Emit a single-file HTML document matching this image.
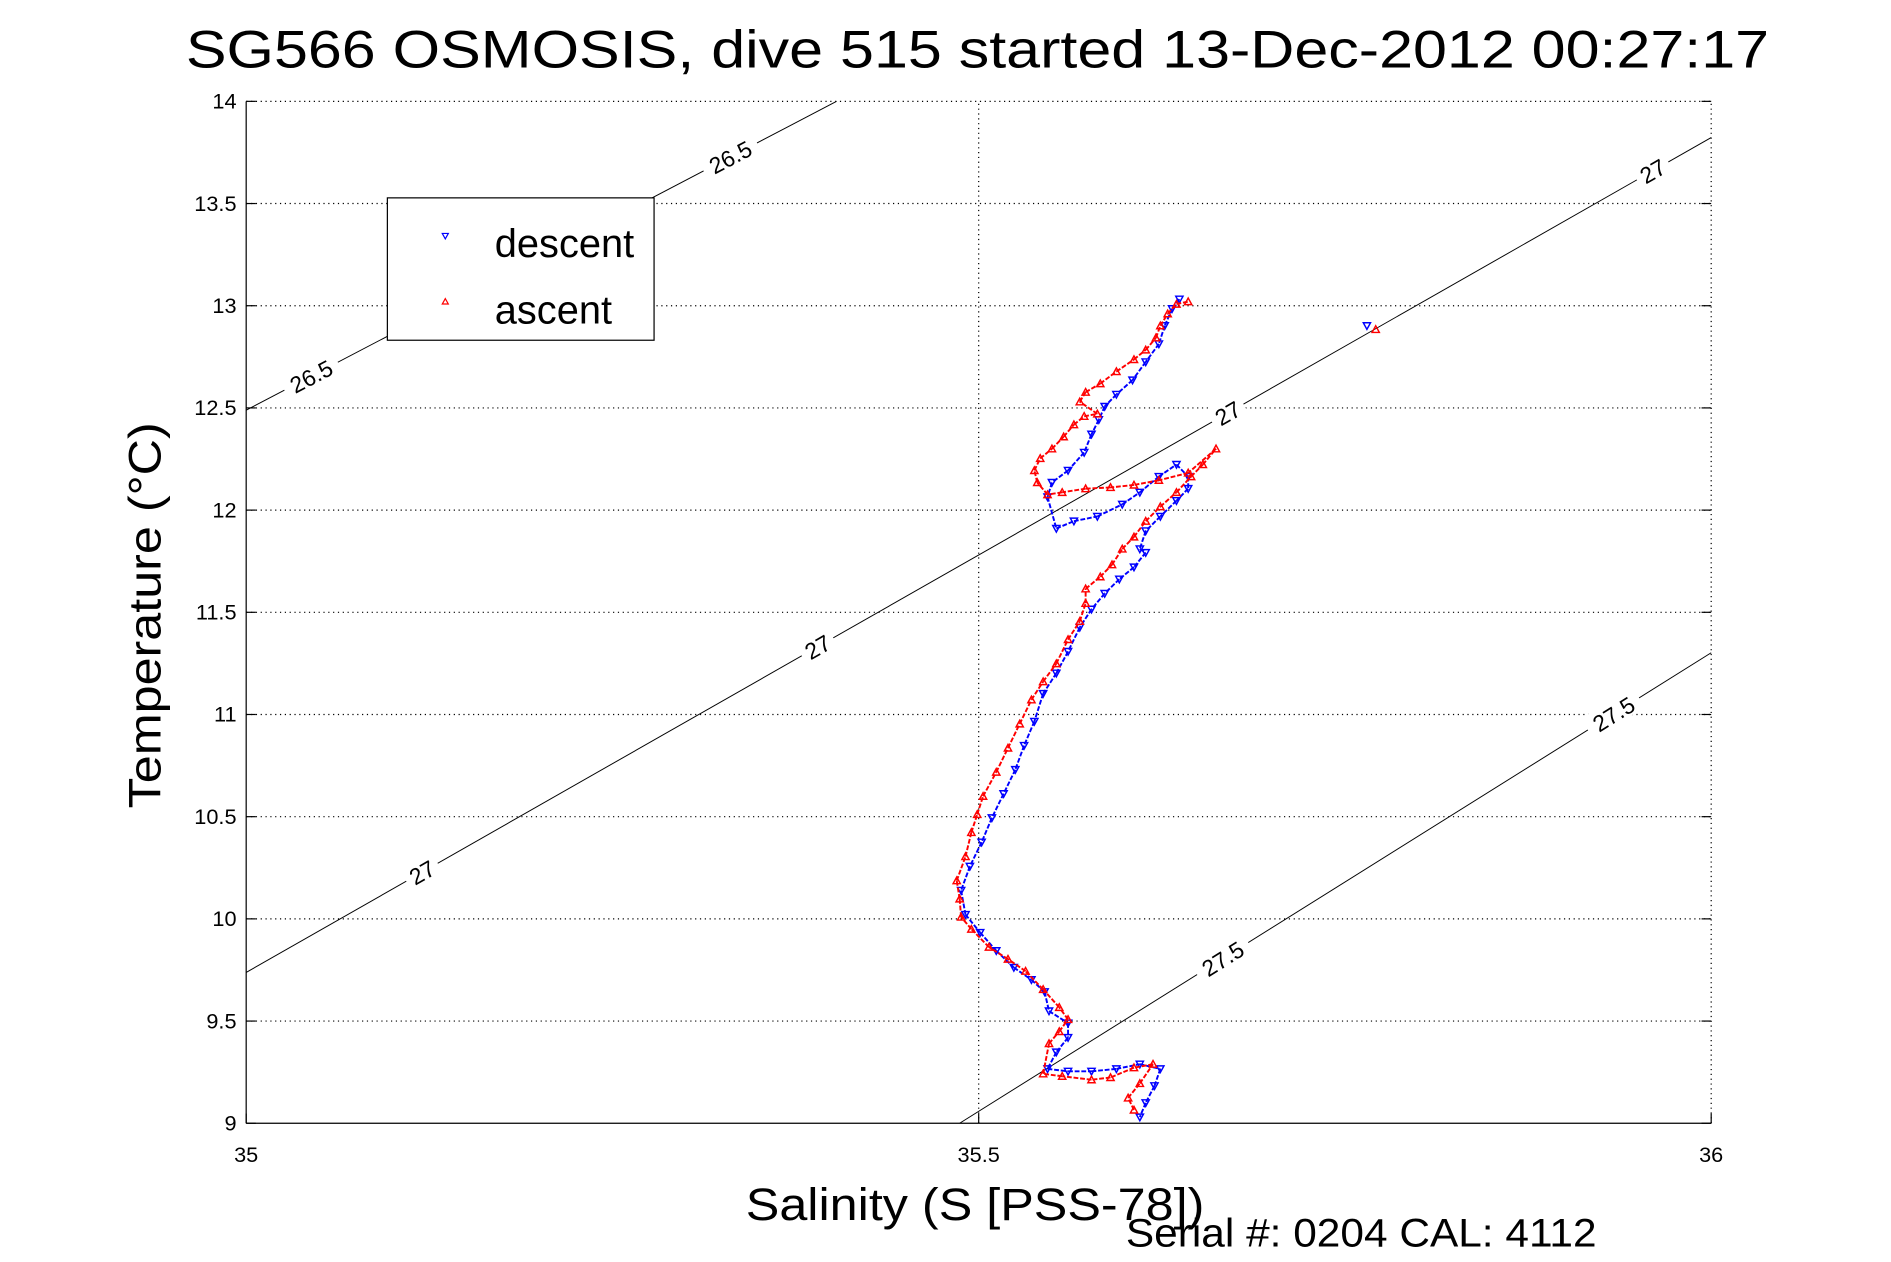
<!DOCTYPE html>
<html><head><meta charset="utf-8"><style>
html,body{margin:0;padding:0;background:#fff;}
svg{display:block;font-family:"Liberation Sans",sans-serif;}
</style></head><body>
<svg id="chart" width="1891" height="1262" viewBox="0 0 1567 1046" preserveAspectRatio="none" xmlns="http://www.w3.org/2000/svg">
<rect width="1567" height="1046" fill="#fff"/>
<text x="810" y="56" font-size="44" text-anchor="middle" textLength="1312" lengthAdjust="spacingAndGlyphs">SG566 OSMOSIS, dive 515 started 13-Dec-2012 00:27:17</text>
<g id="grid"></g>
<g id="contours"></g>
<g id="series"></g>
<line x1="204" y1="931" x2="1418" y2="931" stroke="#000" stroke-width="1"/>
<line x1="204" y1="84" x2="204" y2="931" stroke="#000" stroke-width="1"/>
<g id="ticks"></g>
<text transform="translate(133,510) rotate(-90)" font-size="38" text-anchor="middle" textLength="320" lengthAdjust="spacingAndGlyphs">Temperature (°C)</text>
<text x="808" y="1011" font-size="38" text-anchor="middle" textLength="380" lengthAdjust="spacingAndGlyphs">Salinity (S [PSS-78])</text>
<text x="1128" y="1033" font-size="33" text-anchor="middle" textLength="390" lengthAdjust="spacingAndGlyphs">Serial #: 0204  CAL: 4112</text>
<g>
<rect x="321" y="164" width="221" height="118" fill="#fff" stroke="#000" stroke-width="1"/>
<path d="M366.5,193.5 L371.5,193.5 L369,198 Z" fill="none" stroke="#00f" stroke-width="1"/>
<text x="410" y="213" font-size="33">descent</text>
<path d="M366.5,252 L371.5,252 L369,247.5 Z" fill="none" stroke="#f00" stroke-width="1"/>
<text x="410" y="268" font-size="33">ascent</text>
</g>
</svg>
<script>
const xTicks=[35,35.5,36];
const yTicks=[9,9.5,10,10.5,11,11.5,12,12.5,13,13.5,14];
const xTickLabels=["35","35.5","36"];
const yTickLabels=["9","9.5","10","10.5","11","11.5","12","12.5","13","13.5","14"];
const descentS=[35.637,35.632,35.627,35.623,35.614,35.605,35.594,35.586,35.582,35.577,35.572,35.561,35.550,35.547,35.553,35.565,35.581,35.598,35.610,35.623,35.635,35.643,35.643,35.635,35.624,35.614,35.610,35.614,35.606,35.596,35.586,35.577,35.569,35.561,35.553,35.544,35.538,35.531,35.525,35.517,35.509,35.502,35.494,35.488,35.491,35.501,35.512,35.524,35.536,35.545,35.548,35.561,35.561,35.553,35.547,35.561,35.577,35.594,35.610,35.624,35.620,35.614,35.610,35.765];
const descentT=[13.032,12.985,12.902,12.813,12.725,12.636,12.566,12.507,12.442,12.371,12.282,12.194,12.135,12.064,11.910,11.946,11.969,12.028,12.087,12.164,12.223,12.164,12.105,12.046,11.969,11.898,11.810,11.792,11.721,11.662,11.592,11.515,11.426,11.308,11.202,11.102,10.966,10.848,10.730,10.612,10.494,10.375,10.257,10.139,10.021,9.933,9.844,9.762,9.702,9.643,9.549,9.490,9.419,9.348,9.266,9.254,9.254,9.266,9.289,9.266,9.183,9.100,9.030,12.902];
const ascentS=[35.606,35.602,35.610,35.619,35.606,35.590,35.577,35.557,35.544,35.548,35.555,35.561,35.555,35.544,35.532,35.520,35.507,35.495,35.488,35.487,35.485,35.491,35.495,35.499,35.503,35.512,35.520,35.528,35.536,35.544,35.553,35.561,35.569,35.573,35.573,35.583,35.591,35.598,35.606,35.614,35.624,35.635,35.645,35.653,35.662,35.643,35.623,35.606,35.590,35.573,35.557,35.547,35.540,35.538,35.542,35.550,35.558,35.565,35.572,35.581,35.569,35.573,35.583,35.594,35.606,35.614,35.621,35.624,35.629,35.635,35.643,35.771];
const ascentT=[9.065,9.124,9.195,9.289,9.272,9.224,9.213,9.230,9.242,9.390,9.449,9.508,9.567,9.655,9.744,9.803,9.862,9.950,10.009,10.098,10.187,10.305,10.423,10.511,10.600,10.718,10.836,10.954,11.072,11.161,11.249,11.367,11.456,11.544,11.615,11.674,11.733,11.810,11.869,11.946,12.017,12.087,12.164,12.223,12.300,12.182,12.146,12.123,12.111,12.105,12.087,12.076,12.135,12.194,12.253,12.300,12.359,12.418,12.459,12.471,12.530,12.577,12.619,12.678,12.737,12.784,12.843,12.902,12.961,13.008,13.020,12.884];
const contourLevels=["26.5","27","27.5"];
const contourS0=[35,35,35.487];
const contourT0=[12.489,9.738,9];
const contourS1=[35.403,36,36];
const contourT1=[14,13.823,11.302];
const contourLabelFrac=[[0.11,0.82],[0.12,0.39,0.67,0.96],[0.35,0.87]];

const NS="http://www.w3.org/2000/svg";
const X0=204,X1=1418,Y0=931,Y1=84;
function sx(s){return X0+(s-35)/(36-35)*(X1-X0);}
function ty(t){return Y0-(t-9)/(14-9)*(Y0-Y1);}
function mk(tag,attrs,parent){const e=document.createElementNS(NS,tag);for(const k in attrs)e.setAttribute(k,attrs[k]);parent.appendChild(e);return e;}
const grid=document.getElementById('grid'),ticks=document.getElementById('ticks'),cont=document.getElementById('contours'),ser=document.getElementById('series');

yTicks.forEach((v,i)=>{
  const y=ty(v);
  if(i>0){const g=mk('line',{x1:X0,y1:y,x2:X1,y2:y,stroke:'#000','stroke-width':1,'stroke-dasharray':'1 3'},grid);
  
  }
  const t=mk('line',{x1:X0,y1:y,x2:X0+8,y2:y,stroke:'#000'},ticks);
  
  
  const t2=mk('line',{x1:X1,y1:y,x2:X1-8,y2:y,stroke:'#000'},ticks);
  
  
  const l=mk('text',{x:X0-8,y:y+6,'font-size':18,'text-anchor':'end'},ticks);
  l.textContent=yTickLabels[i];
  
  
});
xTicks.forEach((v,i)=>{
  const x=sx(v);
  if(i>0){const g=mk('line',{x1:x,y1:Y0,x2:x,y2:Y1,stroke:'#000','stroke-width':1,'stroke-dasharray':'1 3'},grid);
  
  }
  const t=mk('line',{x1:x,y1:Y0,x2:x,y2:Y0-8,stroke:'#000'},ticks);
  
  
  const l=mk('text',{x:x,y:963,'font-size':18,'text-anchor':'middle'},ticks);
  l.textContent=xTickLabels[i];
  
  
});

contourLevels.forEach((lev,i)=>{
  const xa=sx(contourS0[i]),ya=ty(contourT0[i]),xb=sx(contourS1[i]),yb=ty(contourT1[i]);
  const ln=mk('line',{x1:xa,y1:ya,x2:xb,y2:yb,stroke:'#000','stroke-width':0.8},cont);
  
  
  const ang=Math.atan2(yb-ya,xb-xa)*180/Math.PI;
  contourLabelFrac[i].forEach(f=>{
    const px=xa+(xb-xa)*f,py=ya+(yb-ya)*f;
    const w=lev.length*10+10;
    mk('rect',{x:-w/2,y:-11,width:w,height:20,fill:'#fff',transform:`translate(${px},${py}) rotate(${ang})`},cont);
    const t=mk('text',{x:0,y:7,'font-size':19,'text-anchor':'middle',transform:`translate(${px},${py}) rotate(${ang})`},cont);
    t.textContent=lev;
    
    
  });
});

function drawSeries(S,T,color,down,name){
  const g=mk('g',{},ser);
  
  
  for(let i=1;i<S.length;i++){
    const xa=sx(S[i-1]),ya=ty(T[i-1]),xb=sx(S[i]),yb=ty(T[i]);
    if(Math.hypot(xb-xa,yb-ya)>60)continue;
    mk('line',{x1:xa,y1:ya,x2:xb,y2:yb,stroke:color,'stroke-width':1.6,'stroke-dasharray':'4 1.5'},g);
  }
  for(let i=0;i<S.length;i++){
    const x=sx(S[i]),y=ty(T[i]);
    const d=down?`M${x-3},${y-2.5} L${x+3},${y-2.5} L${x},${y+3} Z`:`M${x-3},${y+2.5} L${x+3},${y+2.5} L${x},${y-3} Z`;
    const p=mk('path',{d:d,fill:'none',stroke:color,'stroke-width':1.2},g);
    
    
  }
}
drawSeries(descentS,descentT,'#00f',true,'descent');
drawSeries(ascentS,ascentT,'#f00',false,'ascent');
</script>
</body></html>
